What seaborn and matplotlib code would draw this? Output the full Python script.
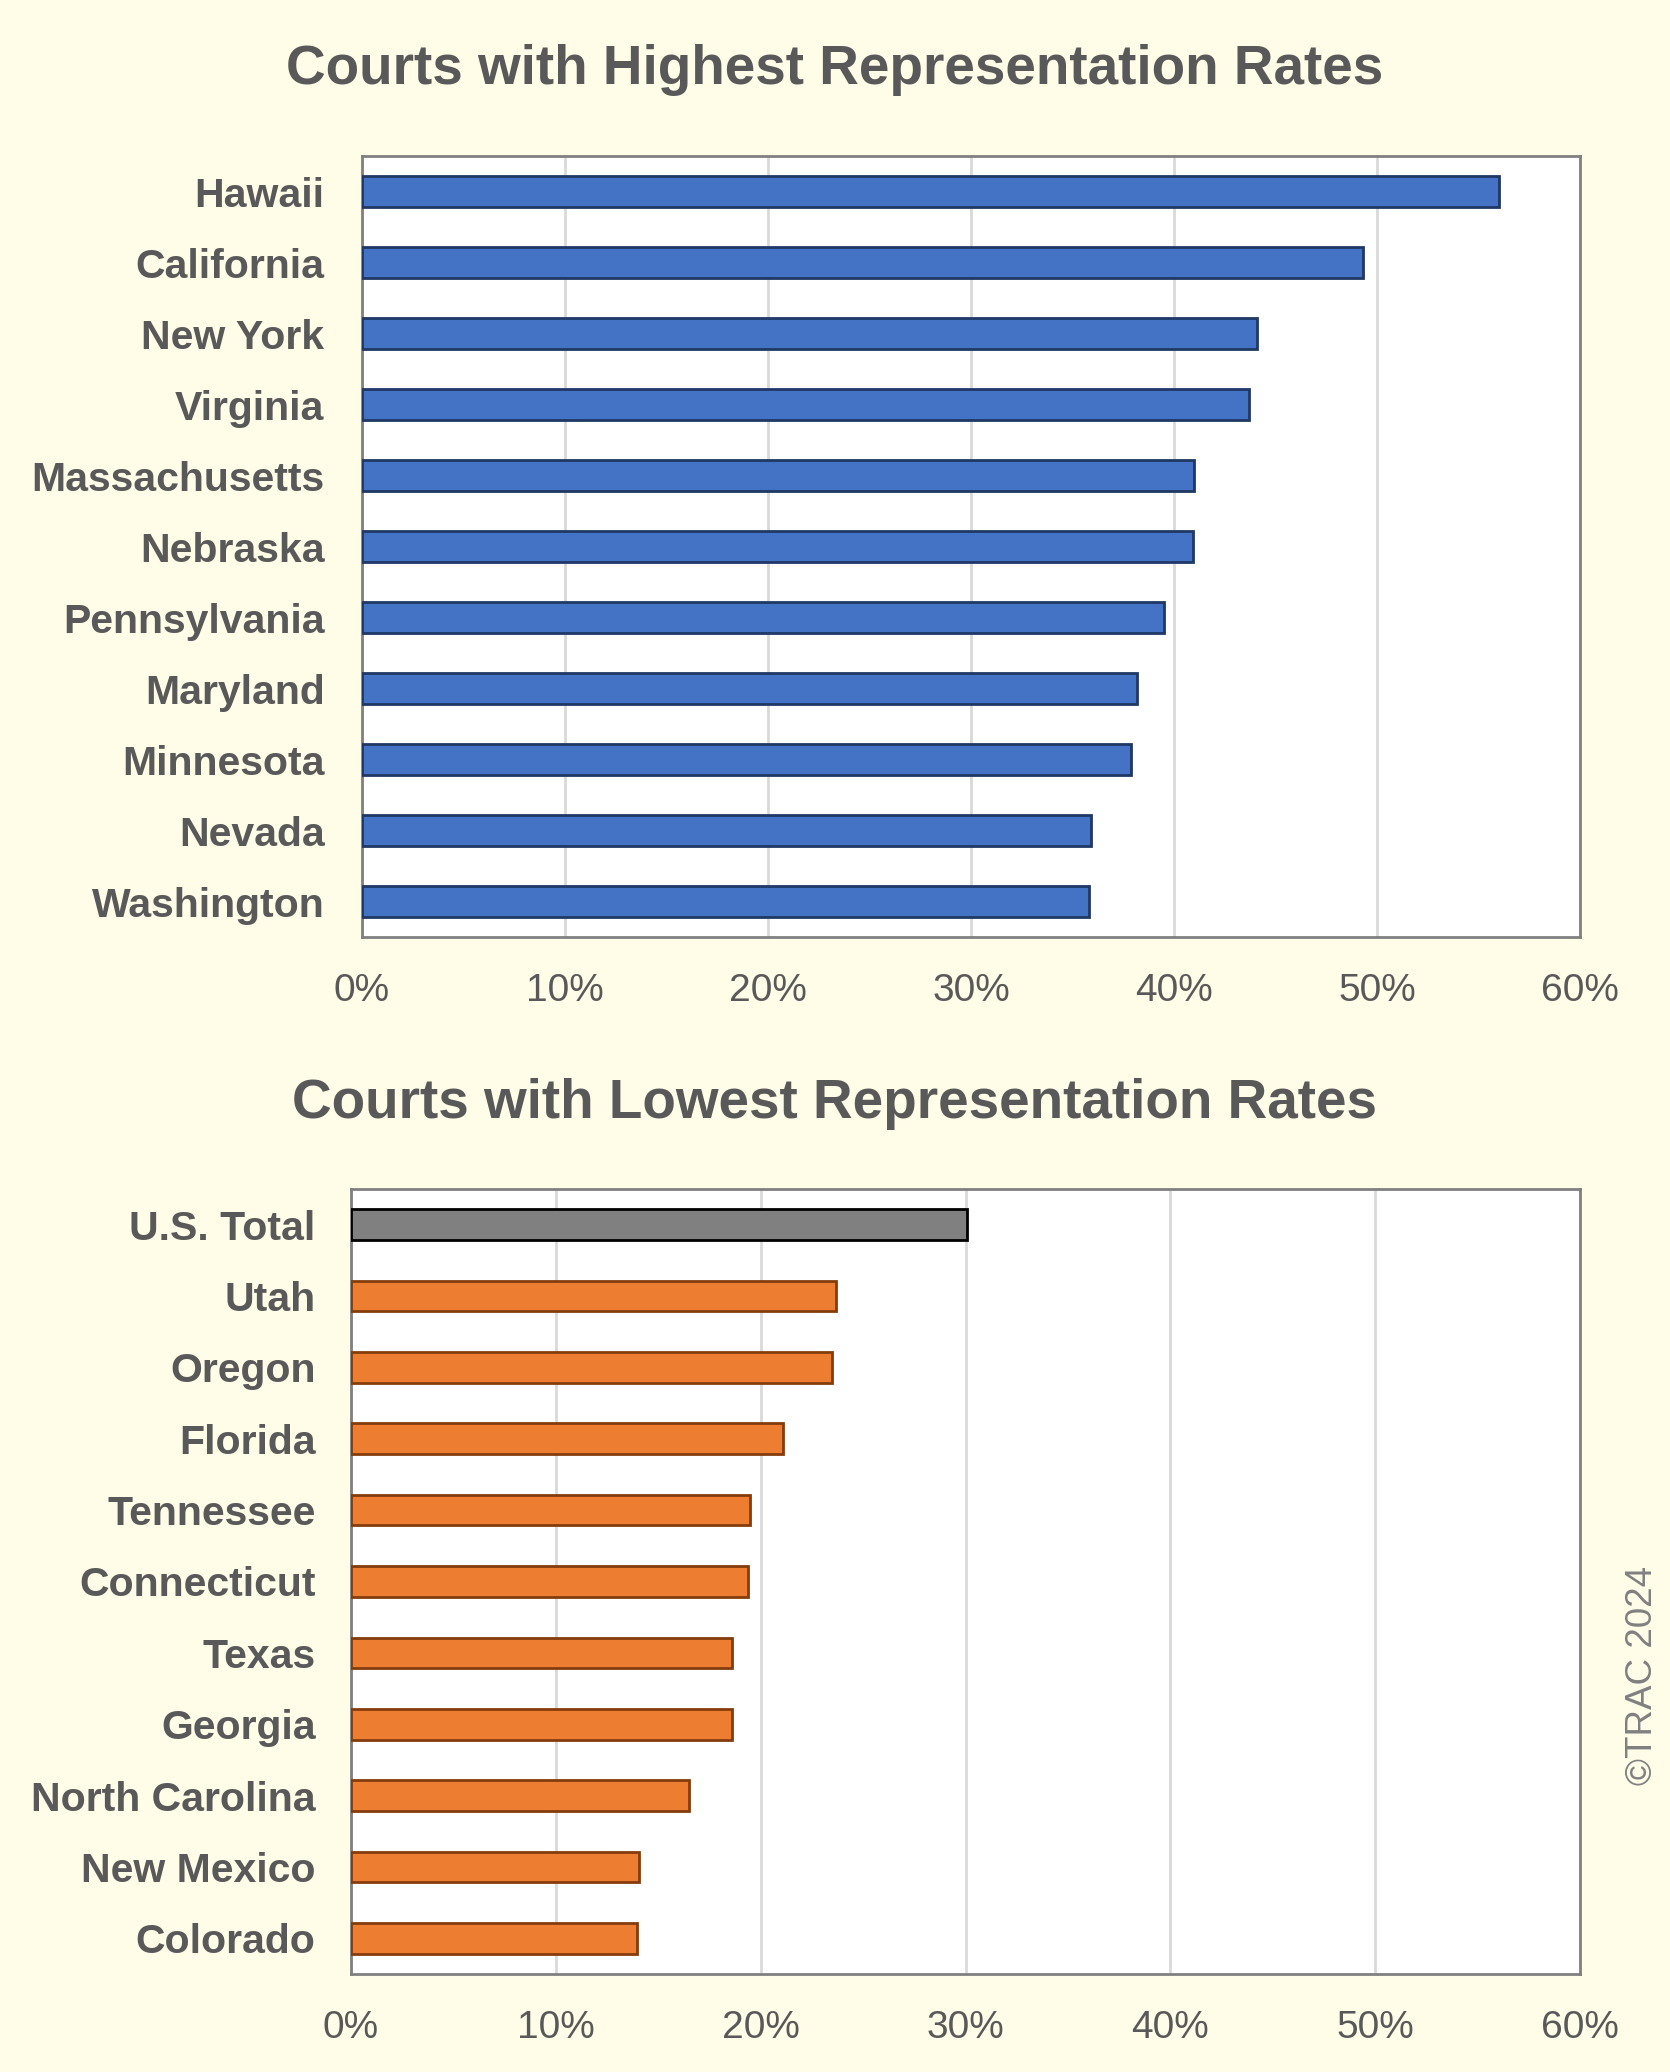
import matplotlib
matplotlib.use("Agg")
import matplotlib.pyplot as plt
import seaborn as sns
import pandas as pd
from matplotlib.ticker import FuncFormatter

sns.set_theme(style="white")
plt.rcParams['font.family'] = ['Liberation Sans', 'DejaVu Sans']

high_states = ["Hawaii", "California", "New York", "Virginia", "Massachusetts", "Nebraska",
               "Pennsylvania", "Maryland", "Minnesota", "Nevada", "Washington"]
high_rates = [56.0, 49.3, 44.1, 43.7, 41.0, 40.95, 39.5, 38.2, 37.9, 35.9, 35.8]

low_states = ["U.S. Total", "Utah", "Oregon", "Florida", "Tennessee", "Connecticut",
              "Texas", "Georgia", "North Carolina", "New Mexico", "Colorado"]
low_rates = [30.05, 23.7, 23.5, 21.1, 19.5, 19.4, 18.6, 18.6, 16.5, 14.05, 13.97]

x_ticks = [0, 10, 20, 30, 40, 50, 60]

BG = "#FFFDE8"
TXT = "#595959"
BLUE, BLUE_EDGE = "#4472C4", "#1F3864"
ORANGE, ORANGE_EDGE = "#ED7D31", "#843C0C"
GREY, GREY_EDGE = "#808080", "#000000"

fig = plt.figure(figsize=(16.7, 20.72), dpi=100, facecolor=BG)
W, H = 1670, 2072
ax1 = fig.add_axes([362 / W, 1 - 937 / H, (1580 - 362) / W, (937 - 156) / H])
ax2 = fig.add_axes([351 / W, 1 - 1974 / H, (1580 - 351) / W, (1974 - 1189) / H])


def draw(ax, states, rates, colors, edges, ypad):
    df = pd.DataFrame({"state": states, "rate": rates})
    sns.barplot(data=df, x="rate", y="state", hue="state", palette=colors, legend=False,
                orient="h", width=0.43, saturation=1, ax=ax, zorder=3)
    for p, ec in zip(ax.patches, edges):
        p.set_edgecolor(ec)
        p.set_linewidth(2.0)
    ax.set_facecolor("white")
    ax.set_xlim(0, 60)
    ax.set_xticks(x_ticks)
    ax.set_ylim(len(states) - 0.5, -0.5)
    ax.xaxis.set_major_formatter(FuncFormatter(lambda v, _: f"{int(round(v))}%"))
    ax.grid(axis="x", color="#D9D9D9", linewidth=2, zorder=0)
    ax.grid(axis="y", visible=False)
    for s in ax.spines.values():
        s.set_color("#808080")
        s.set_linewidth(2)
    ax.set_xlabel("")
    ax.set_ylabel("")
    ax.tick_params(axis="x", labelsize=28, colors=TXT, pad=26, length=0)
    ax.tick_params(axis="y", labelsize=29.5, colors=TXT, pad=ypad, length=0)
    for lab in ax.get_yticklabels():
        lab.set_fontweight("bold")
        lab.set_verticalalignment("center_baseline")


draw(ax1, high_states, high_rates, [BLUE] * len(high_states), [BLUE_EDGE] * len(high_states), 27)
draw(ax2, low_states, low_rates, [GREY] + [ORANGE] * (len(low_states) - 1),
     [GREY_EDGE] + [ORANGE_EDGE] * (len(low_states) - 1), 25.5)

fig.text(835 / W, 1 - 70 / H, "Courts with Highest Representation Rates", ha="center", va="center",
         fontsize=39.5, fontweight="bold", color=TXT)
fig.text(835 / W, 1 - 1104 / H, "Courts with Lowest Representation Rates", ha="center", va="center",
         fontsize=39.5, fontweight="bold", color=TXT)

fig.text(1643 / W, 1 - 1675 / H, "©TRAC 2024", rotation=90, ha="center", va="center",
         fontsize=26.5, color="#808080")

fig.savefig("out.png", dpi=100, facecolor=BG)
